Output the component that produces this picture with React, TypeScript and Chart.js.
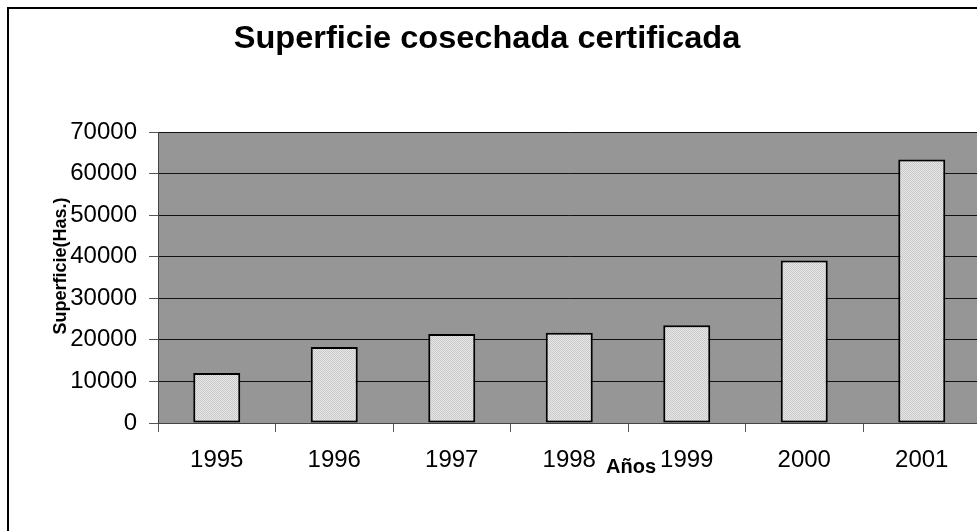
import React, { useEffect, useRef } from 'react';
import { Chart, registerables } from 'chart.js';

Chart.register(...registerables);

const categories = ['1995', '1996', '1997', '1998', '1999', '2000', '2001'];
const values = [12000, 18300, 21400, 21700, 23500, 39100, 63400];
const yMin = 0;
const yMax = 70000;
const yStep = 10000;
const chartTitle = 'Superficie cosechada certificada';
const yTitle = 'Superficie(Has.)';
const xTitle = 'Años';

const FONT = "'Liberation Sans', Arial, sans-serif";

const bgPlugin = {
  id: 'plotBg',
  beforeDraw(chart: any) {
    const { ctx, chartArea: a } = chart;
    ctx.save();
    ctx.fillStyle = '#969696';
    ctx.fillRect(a.left, a.top, a.right - a.left, a.bottom - a.top);
    ctx.restore();
  },
};

const textPlugin = {
  id: 'texts',
  afterDraw(chart: any) {
    const { ctx, chartArea: a } = chart;
    ctx.save();
    ctx.fillStyle = '#000';
    ctx.textAlign = 'center';
    ctx.textBaseline = 'alphabetic';
    ctx.save();
    ctx.translate(487, a.top - 84);
    ctx.scale(1.05, 1);
    ctx.font = `bold 31px ${FONT}`;
    ctx.fillText(chartTitle, 0, 0);
    ctx.restore();
    ctx.font = `bold 20px ${FONT}`;
    ctx.fillText(xTitle, 631, a.bottom + 50);
    ctx.translate(a.left - 92, 266);
    ctx.rotate(-Math.PI / 2);
    ctx.font = `bold 18px ${FONT}`;
    ctx.fillText(yTitle, 0, 0);
    ctx.restore();
  },
};

export default function App() {
  const ref = useRef<HTMLCanvasElement | null>(null);
  useEffect(() => {
    const canvas = ref.current!;
    const ctx = canvas.getContext('2d')!;
    const off = document.createElement('canvas');
    off.width = 2;
    off.height = 2;
    const g = off.getContext('2d')!;
    g.fillStyle = '#e8e8e8';
    g.fillRect(0, 0, 2, 2);
    g.fillStyle = '#c8c8c8';
    g.fillRect(0, 0, 1, 1);
    g.fillRect(1, 1, 1, 1);
    const pattern = ctx.createPattern(off, 'repeat');

    const chart = new Chart(canvas, {
      type: 'bar',
      data: {
        labels: categories,
        datasets: [
          {
            data: values,
            backgroundColor: pattern as any,
            borderColor: '#000',
            borderWidth: 2,
            borderSkipped: false,
            barPercentage: 0.4,
            categoryPercentage: 1,
          },
        ],
      },
      options: {
        responsive: false,
        animation: false,
        devicePixelRatio: 1,
        layout: { padding: { left: 0, top: 132, right: 19.5, bottom: 0 } },
        plugins: {
          legend: { display: false },
          title: { display: false },
          tooltip: { enabled: false },
        },
        scales: {
          x: {
            afterFit: (s: any) => {
              s.height = 108;
            },
            grid: {
              drawOnChartArea: false,
              drawTicks: true,
              tickLength: 9,
              tickColor: '#555',
              offset: true,
            },
            border: { display: true, color: '#444', width: 1 },
            ticks: {
              color: '#000',
              padding: 14,
              font: { family: FONT, size: 24 },
              maxRotation: 0,
            },
          },
          y: {
            min: yMin,
            max: yMax,
            afterFit: (s: any) => {
              s.width = 158;
            },
            grid: {
              color: '#111',
              lineWidth: 1,
              drawTicks: true,
              tickLength: 9,
              tickColor: '#555',
            },
            border: { display: true, color: '#444', width: 1 },
            ticks: {
              stepSize: yStep,
              color: '#000',
              padding: 12,
              font: { family: FONT, size: 24 },
              callback: (v: any) => String(v),
            },
          },
        },
      },
      plugins: [bgPlugin, textPlugin],
    });
    return () => chart.destroy();
  }, []);

  return (
    <div
      style={{
        position: 'fixed',
        left: 0,
        top: 0,
        width: 977,
        height: 531,
        overflow: 'hidden',
        background: '#fff',
      }}
    >
      <canvas ref={ref} width={1000} height={531} style={{ position: 'absolute', left: 0, top: 0 }} />
      <div
        style={{
          position: 'absolute',
          left: 7,
          top: 7,
          width: 1100,
          height: 700,
          border: '2px solid #000',
          pointerEvents: 'none',
        }}
      />
    </div>
  );
}
